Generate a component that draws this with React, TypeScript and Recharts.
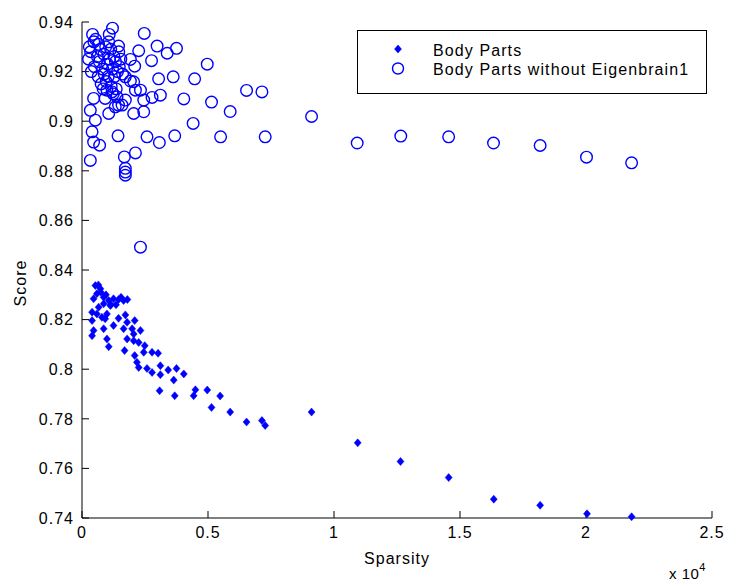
import React from 'react';
import { ScatterChart, Scatter, XAxis, YAxis, Legend, Label } from 'recharts';

const bodyPartsSparsity = [4970, 5140, 5480, 5880, 6530, 7140, 7270, 9110, 10940, 12640, 14550, 16340, 18180, 20040, 21810,
  530, 730, 590, 460, 860, 1060, 1250, 1450, 1650, 1800, 1120, 860, 660, 400, 590, 990, 790, 400, 920, 1450,
  1720, 1250, 860, 460, 400, 990, 1790, 1650, 1990, 2050, 2320, 1790, 2050, 2090, 1060, 2250, 2490, 1690, 2450, 2780,
  3020, 2090, 2180, 2250, 2580, 2780, 3110, 3110, 3420, 3750, 4040, 3640, 3080, 3680, 4430, 4500,
  650, 750, 950, 1150, 1350, 1550];
const bodyPartsScore = [0.7916, 0.7846, 0.7892, 0.7827, 0.7787, 0.7793, 0.7773, 0.7827, 0.7703, 0.7628, 0.7563, 0.7476, 0.7451, 0.7417, 0.7405,
  0.8337, 0.8324, 0.8304, 0.8284, 0.829, 0.8277, 0.8284, 0.8281, 0.8277, 0.8281, 0.8257, 0.8264, 0.825, 0.823, 0.8223, 0.8223, 0.8209, 0.8196, 0.8203, 0.8205,
  0.8219, 0.8176, 0.8163, 0.8156, 0.8135, 0.8122, 0.8189, 0.8163, 0.8163, 0.8142, 0.8156, 0.8122, 0.8115, 0.8196, 0.8091, 0.8108, 0.8095, 0.8075, 0.8068, 0.8068,
  0.8064, 0.8055, 0.8028, 0.8007, 0.8003, 0.7987, 0.8014, 0.7978, 0.7997, 0.8003, 0.7981, 0.7956, 0.7913, 0.7893, 0.7893, 0.7917,
  0.834, 0.831, 0.83, 0.826, 0.826, 0.829];

const noEigenSparsity = [4970, 6530, 7140, 5140, 5880, 9110, 5500, 7270, 10920, 12650, 14550, 16330, 18180, 20020, 21810,
  1210, 2470, 2980, 3750, 3380, 2250, 1450, 2760, 1920, 2090, 3040, 3620, 4470, 1720, 1920, 2050, 2120, 2320, 3110, 2780,
  2450, 4040, 4410, 2450, 2050, 1430, 2580, 3070, 3680, 2120, 1680, 1720, 1720, 1720, 330, 700, 460, 400, 330, 460,
  530, 1060, 1320, 1590, 1390, 1190, 990, 920, 1720, 1450, 2320,
  260, 340, 470, 540, 660, 730, 870, 940, 1060, 1140, 1270, 1330, 490, 610, 690, 820, 880, 1010, 1090, 1210,
  1290, 1410, 1480, 1610, 640, 760, 840, 960, 1040, 1160, 1240, 1360, 370, 290, 420, 1080, 1460, 1540];
const noEigenScore = [0.923, 0.9124, 0.9118, 0.9077, 0.9039, 0.9019, 0.8937, 0.8937, 0.8912, 0.894, 0.8937, 0.8912, 0.8902, 0.8855, 0.8832,
  0.9375, 0.9354, 0.9303, 0.9294, 0.9274, 0.9284, 0.9303, 0.9244, 0.9249, 0.9222, 0.9171, 0.9179, 0.9171, 0.9179, 0.9162, 0.9159, 0.9125, 0.9125, 0.9105, 0.9096,
  0.9085, 0.909, 0.8991, 0.9038, 0.9031, 0.8941, 0.8937, 0.8914, 0.8941, 0.8872, 0.8856, 0.8795, 0.8782, 0.881, 0.8842, 0.8903, 0.8916, 0.8957, 0.9044, 0.9092,
  0.9004, 0.9031, 0.9058, 0.9065, 0.9098, 0.9118, 0.9125, 0.9092, 0.9085, 0.9065, 0.8492,
  0.925, 0.928, 0.932, 0.933, 0.931, 0.929, 0.927, 0.93, 0.932, 0.929, 0.926, 0.924, 0.922, 0.926, 0.924, 0.921, 0.919, 0.923, 0.925, 0.921,
  0.918, 0.92, 0.922, 0.919, 0.918, 0.915, 0.913, 0.916, 0.918, 0.914, 0.911, 0.913, 0.92, 0.93, 0.935, 0.935, 0.928, 0.925];

const xTicks = [0, 5000, 10000, 15000, 20000, 25000];
const xTickLabels = ['0', '0.5', '1', '1.5', '2', '2.5'];
const yTicks = [0.74, 0.76, 0.78, 0.8, 0.82, 0.84, 0.86, 0.88, 0.9, 0.92, 0.94];
const yTickLabels = ['0.74', '0.76', '0.78', '0.8', '0.82', '0.84', '0.86', '0.88', '0.9', '0.92', '0.94'];
const seriesNames = ['Body Parts', 'Body Parts without Eigenbrain1'];

const bodyParts = bodyPartsSparsity.map((x, i) => ({ x, y: bodyPartsScore[i] }));
const noEigen = noEigenSparsity.map((x, i) => ({ x, y: noEigenScore[i] }));

const BLUE = '#0000ff';
const FONT = '"Liberation Sans", Arial, Helvetica, sans-serif';

const Diamond = (props: any) => {
  const { cx, cy } = props;
  if (cx == null || cy == null) return null;
  return (
    <polygon
      points={`${cx},${cy - 4} ${cx + 3.5},${cy} ${cx},${cy + 4} ${cx - 3.5},${cy}`}
      fill={BLUE}
      stroke={BLUE}
      strokeWidth={0.5}
    />
  );
};

const Ring = (props: any) => {
  const { cx, cy } = props;
  if (cx == null || cy == null) return null;
  return <circle cx={cx} cy={cy} r={5.8} fill="none" stroke={BLUE} strokeWidth={1.4} />;
};

const XTick = (props: any) => {
  const { x, y, payload } = props;
  const idx = xTicks.indexOf(payload.value);
  return (
    <text x={x} y={y} dy="0.72em" textAnchor="middle" fill="#000" fontSize={16} fontFamily={FONT} letterSpacing={1}>
      {idx >= 0 ? xTickLabels[idx] : String(payload.value)}
    </text>
  );
};

const YTick = (props: any) => {
  const { x, y, payload } = props;
  const idx = yTicks.findIndex((t) => Math.abs(t - Number(payload.value)) < 1e-9);
  return (
    <text x={x} y={y} dy="0.36em" textAnchor="end" fill="#000" fontSize={16} fontFamily={FONT} letterSpacing={1}>
      {idx >= 0 ? yTickLabels[idx] : String(payload.value)}
    </text>
  );
};

const renderLegend = () => (
  <svg width={350} height={64} style={{ display: 'block' }}>
    <rect x={0.5} y={0.5} width={349} height={63} fill="#fff" stroke="#000" strokeWidth={1} />
    <polygon points={`41,15 44.5,19 41,23 37.5,19`} fill={BLUE} stroke={BLUE} strokeWidth={0.5} />
    <text x={76} y={25.5} fill="#000" fontSize={16} fontFamily={FONT} letterSpacing={1.1}>{seriesNames[0]}</text>
    <circle cx={41} cy={38.5} r={5.5} fill="none" stroke={BLUE} strokeWidth={1.4} />
    <text x={76} y={45} fill="#000" fontSize={16} fontFamily={FONT} letterSpacing={1.1}>{seriesNames[1]}</text>
  </svg>
);

export default function App() {
  return (
    <div style={{ position: 'absolute', left: 0, top: 0, width: 729, height: 581, background: '#fff' }}>
      <ScatterChart width={729} height={581} margin={{ top: 22, right: 17, bottom: 0, left: 0 }}>
        <XAxis
          type="number"
          dataKey="x"
          domain={[0, 25000]}
          ticks={xTicks}
          interval={0}
          height={63}
          stroke="#000"
          tickSize={-7}
          tickMargin={15}
          tick={<XTick />}
          axisLine={{ stroke: '#000' }}
          tickLine={{ stroke: '#000' }}
        >
          <Label
            content={(p: any) => {
              const vb = p.viewBox || {};
              const cx = vb.x + vb.width / 2;
              return (
                <g>
                  <text x={cx} y={564} textAnchor="middle" fill="#000" fontSize={16} fontFamily={FONT} letterSpacing={1}>Sparsity</text>
                  <text x={669} y={579} fill="#000" fontSize={15} fontFamily={FONT} letterSpacing={0.5}>
                    x 10<tspan dy={-8} fontSize={11}>4</tspan>
                  </text>
                </g>
              );
            }}
          />
        </XAxis>
        <YAxis
          type="number"
          dataKey="y"
          domain={[0.74, 0.94]}
          ticks={yTicks}
          interval={0}
          width={82}
          stroke="#000"
          tickSize={-7}
          tickMargin={15}
          tick={<YTick />}
          axisLine={{ stroke: '#000' }}
          tickLine={{ stroke: '#000' }}
        >
          <Label
            content={() => (
              <text x={26} y={283} transform="rotate(-90 26 283)" textAnchor="middle" fill="#000" fontSize={16} fontFamily={FONT} letterSpacing={1}>
                Score
              </text>
            )}
          />
        </YAxis>
        <Legend
          layout="vertical"
          align="center"
          verticalAlign="middle"
          content={renderLegend}
          wrapperStyle={{ position: 'absolute', left: 357, top: 30, width: 350, height: 64 }}
        />
        <Scatter name={seriesNames[0]} data={bodyParts} fill={BLUE} shape={<Diamond />} isAnimationActive={false} />
        <Scatter name={seriesNames[1]} data={noEigen} fill="none" stroke={BLUE} shape={<Ring />} isAnimationActive={false} />
      </ScatterChart>
    </div>
  );
}
